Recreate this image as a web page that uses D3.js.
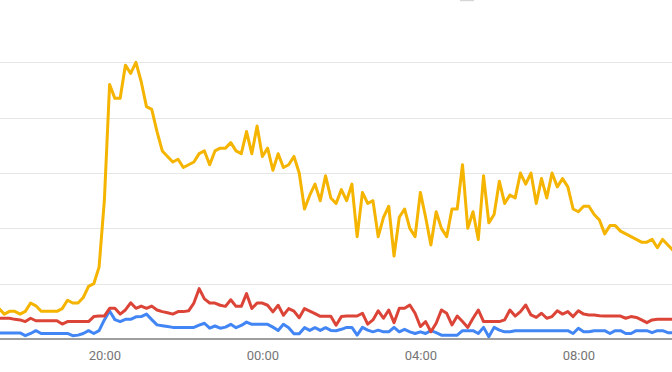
<!DOCTYPE html>
<html><head><meta charset="utf-8">
<script src="https://cdn.jsdelivr.net/npm/d3@7"></script>
<style>html,body{margin:0;padding:0;background:#fff;overflow:hidden}</style>
</head><body>
<svg id="c" width="672" height="372"></svg>
<script>
// ---- data ----
const startTime = "2024-01-01T17:20:00";
const stepMinutes = 8;
const tickTimes = ["2024-01-01T20:00:00","2024-01-02T00:00:00","2024-01-02T04:00:00","2024-01-02T08:00:00"];
const tickLabels = ["20:00","00:00","04:00","08:00"];
const gridValues = [20,40,60,80,100];

const seriesBlue = [2.2,2.2,2.2,2.2,2.2,1.2,2,3,2,2,2,2,2,2,1.2,1.4,2,3,2,3,
  6.9,10.1,7,6.3,7.1,7.1,8,8.1,9,7,5.1,4.8,4.5,4.2,4.2,4.2,4.2,4.2,5,5.7,
  3.9,4.7,3.9,4.3,5.3,4.1,4.9,6.1,5.3,5.3,5.3,5.3,4.3,3.1,5.3,4.1,1.9,1.9,4.1,3.1,
  4.1,3.1,4.1,3.1,3,3.5,4.2,4.2,1.4,4.2,3.2,2.6,3.2,2.6,2.6,4.2,2.6,3.5,2.6,2,
  2.6,2,3,2.3,1.4,1.4,1.4,1.4,3,3,3,2,4.2,0.8,4.2,3.2,2.6,2.6,3,3,
  3,3,3,3,3,3,3,3,3,2,3.9,2.6,2.6,3,3,3,2,3,3,2,
  2,3,3,3,2.3,3,3,2.3,2.3];
const seriesRed = [7.5,7.5,7.5,7.1,6.9,6.3,7.5,6.6,6.6,6.6,6.6,6.6,5.4,6.3,6.3,6.3,6.3,6.3,8.1,8.3,
  8.3,11.1,11.1,9,10.5,13.1,11.1,11.9,11.1,11.9,10.5,9.9,9.5,9,9.9,9.9,10.2,13,18.2,14.5,
  13,13,12.2,11.8,14.2,11.8,11.8,16.4,11,13,13,12.2,9.8,12.2,8.6,11,10.1,7.7,11,10.1,
  9.2,8.2,8.2,8.2,5,8.1,8.3,8.3,8.3,9.3,5.4,6.9,10.2,7.5,10.5,5.9,11.1,11.1,12.3,9.3,
  4.5,6.3,2.6,5.7,10.5,9.3,5.1,8.3,6.3,4.2,7.5,10.5,6.3,6.3,6.3,6.3,6.9,10.5,8.3,9.9,
  12.3,8.7,7.8,9.3,7.5,8.1,10.2,9,9.9,8.1,10.2,9,8.7,8.7,8.4,8.3,8.3,8.3,8.3,7.5,
  8.1,7.8,6.9,5.9,6.9,7.1,7.1,7.1,7.1];
const seriesYellow = [11,9,10,10,9,10,13,12,10,10,10,10,11,14,13,13,15,19,20,26,
  50,92,87,87,99,96,100,93,84,83,75,68,66,64,65,62,63,64,67,68,
  63,68,69,69,71,68,67,75,67,77,66,69,61,67,62,63,66,60,47,52,
  56,50,59,51,49,54,50,56,37,53,49,50,37,44,48,30,44,47,40,37,
  53,44,34,46,40,37,47,47,63,40,46,36,59,42,45,57,49,52,51,60,
  56,60,49,58,51,60,55,58,55,47,46,48,48,45,43,38,41,41,39,38,
  37,36,35,35,36,33,36,34,32];

const seriesList = [
  {name:"blue", values: seriesBlue, color:"#4285f4"},
  {name:"red", values: seriesRed, color:"#db4437"},
  {name:"yellow", values: seriesYellow, color:"#f4b400"}
];

// ---- chart ----
const W = 672, H = 372;
const svg = d3.select("#c");
const parse = d3.isoParse;
const t0 = parse(startTime);
const times = seriesYellow.map((_, i) => d3.timeMinute.offset(t0, i * stepMinutes));

const x = d3.scaleTime()
  .domain([times[0], times[times.length - 1]])
  .range([-1, -1 + (times.length - 1) * 5.267]);
const y = d3.scaleLinear().domain([0, 100]).range([339, 62.4]);

// gridlines
svg.append("g").selectAll("line").data(gridValues).join("line")
  .attr("x1", 0).attr("x2", W)
  .attr("y1", d => Math.round(y(d)) + 0.5).attr("y2", d => Math.round(y(d)) + 0.5)
  .attr("stroke", "#e6e6e6").attr("stroke-width", 1);

// small cropped element at top
svg.append("rect").attr("x", 460).attr("y", 0).attr("width", 14).attr("height", 1.2).attr("fill", "#d6d6d6");

// lines
const line = d3.line().x((d, i) => x(times[i])).y(d => y(d));
svg.append("g").selectAll("path").data(seriesList).join("path")
  .attr("d", s => line(s.values))
  .attr("fill", "none")
  .attr("stroke", s => s.color)
  .attr("stroke-width", 3)
  .attr("stroke-linejoin", "round")
  .attr("stroke-linecap", "round");

// baseline
svg.append("line").attr("x1", 0).attr("x2", W).attr("y1", 339).attr("y2", 339)
  .attr("stroke", "#9e9e9e").attr("stroke-width", 2);

// x axis labels
const axis = d3.axisBottom(x)
  .tickValues(tickTimes.map(parse))
  .tickFormat((d, i) => tickLabels[i])
  .tickSize(0);
const ax = svg.append("g").attr("transform", "translate(0,339)").call(axis);
ax.select(".domain").remove();
ax.selectAll("text")
  .attr("y", 21).attr("dy", 0)
  .attr("fill", "#757575")
  .style("font-family", "Roboto, Arial, sans-serif")
  .style("font-size", "13px");
</script>
</body></html>
